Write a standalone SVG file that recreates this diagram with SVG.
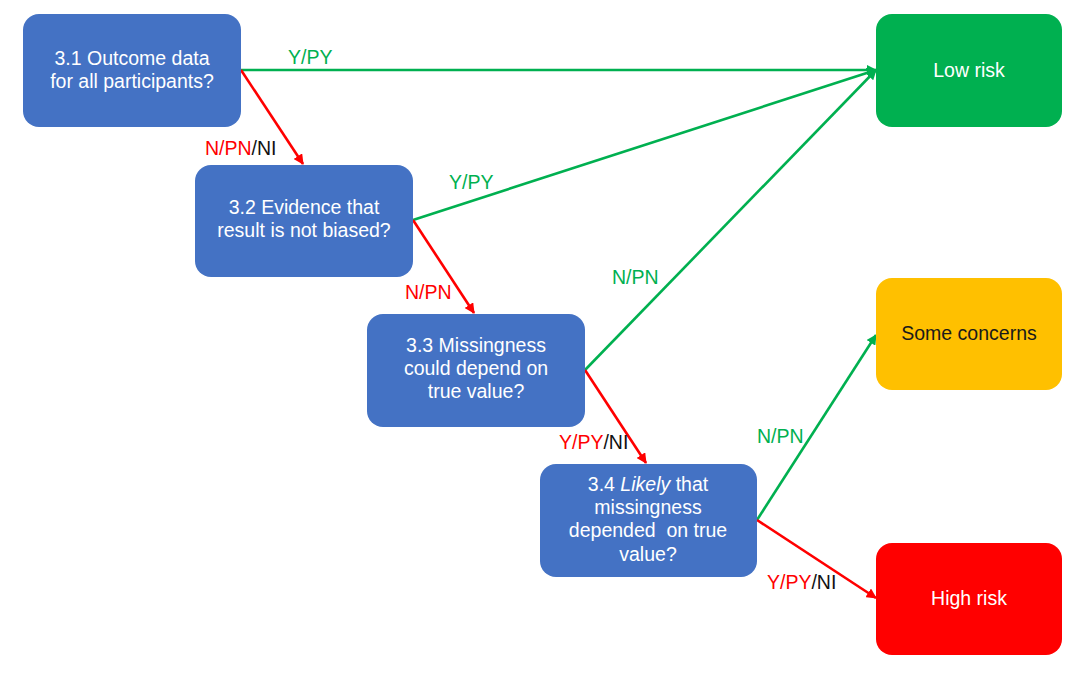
<svg xmlns="http://www.w3.org/2000/svg" width="1080" height="676" viewBox="0 0 1080 676">
<style>
.q{fill:#4472C4}
.t{font-family:"Liberation Sans",Arial,sans-serif;font-size:19.5px;text-anchor:middle;dominant-baseline:central}
.w{fill:#ffffff}
.g{stroke:#00B050;stroke-width:2.6;fill:none}
.r{stroke:#FF0000;stroke-width:2.6;fill:none}
.l{font-family:"Liberation Sans",Arial,sans-serif;font-size:19.5px;dominant-baseline:central}
.gt{fill:#00B050}
.rt{fill:#FF0000}
.kt{fill:#111111}
</style>
<defs>
<marker id="ag" viewBox="0 0 10 10" refX="9" refY="5" markerWidth="4" markerHeight="4" orient="auto" markerUnits="strokeWidth"><path d="M0,0 L10,5 L0,10 z" fill="#00B050"/></marker>
<marker id="ar" viewBox="0 0 10 10" refX="9" refY="5" markerWidth="4" markerHeight="4" orient="auto" markerUnits="strokeWidth"><path d="M0,0 L10,5 L0,10 z" fill="#FF0000"/></marker>
</defs>
<rect width="1080" height="676" fill="#ffffff"/>
<g id="connectors">
<line class="g" x1="241" y1="70" x2="876" y2="70" marker-end="url(#ag)"/>
<line class="r" x1="241" y1="70" x2="303" y2="164" marker-end="url(#ar)"/>
<line class="g" x1="413" y1="220" x2="876" y2="70" marker-end="url(#ag)"/>
<line class="r" x1="413" y1="220" x2="474" y2="313" marker-end="url(#ar)"/>
<line class="g" x1="585" y1="370" x2="876" y2="70" marker-end="url(#ag)"/>
<line class="r" x1="585" y1="370" x2="646" y2="463" marker-end="url(#ar)"/>
<line class="g" x1="757" y1="520" x2="876" y2="335" marker-end="url(#ag)"/>
<line class="r" x1="757" y1="520" x2="876" y2="598" marker-end="url(#ar)"/>
<text class="l gt" x="288" y="57">Y/PY</text>
<text class="l" x="205" y="148"><tspan class="rt">N/PN</tspan><tspan class="kt">/NI</tspan></text>
<text class="l gt" x="449" y="182">Y/PY</text>
<text class="l rt" x="405" y="292">N/PN</text>
<text class="l gt" x="612" y="277">N/PN</text>
<text class="l" x="559" y="442"><tspan class="rt">Y/PY</tspan><tspan class="kt">/NI</tspan></text>
<text class="l gt" x="757" y="436">N/PN</text>
<text class="l" x="767" y="582"><tspan class="rt">Y/PY</tspan><tspan class="kt">/NI</tspan></text>
</g>
<g id="q31">
<rect class="q" x="23" y="14" width="218" height="113" rx="16"/>
<text class="t w" x="132" y="58">3.1 Outcome data</text>
<text class="t w" x="132" y="81">for all participants?</text>
</g>
<g id="q32">
<rect class="q" x="195" y="165" width="218" height="112" rx="16"/>
<text class="t w" x="304" y="207">3.2 Evidence that</text>
<text class="t w" x="304" y="230">result is not biased?</text>
</g>
<g id="q33">
<rect class="q" x="367" y="314" width="218" height="113" rx="16"/>
<text class="t w" x="476" y="345">3.3 Missingness</text>
<text class="t w" x="476" y="368">could depend on</text>
<text class="t w" x="476" y="391">true value?</text>
</g>
<g id="q34">
<rect class="q" x="540" y="464" width="217" height="113" rx="16"/>
<text class="t w" x="648" y="484">3.4 <tspan font-style="italic">Likely</tspan> that</text>
<text class="t w" x="648" y="507">missingness</text>
<text class="t w" x="648" y="530" xml:space="preserve">depended  on true</text>
<text class="t w" x="648" y="554">value?</text>
</g>
<g id="low">
<rect x="876" y="14" width="186" height="113" rx="16" fill="#00B050"/>
<text class="t w" x="969" y="70">Low risk</text>
</g>
<g id="some">
<rect x="876" y="278" width="186" height="112" rx="16" fill="#FFC000"/>
<text class="t" x="969" y="333" fill="#1a1a1a">Some concerns</text>
</g>
<g id="high">
<rect x="876" y="543" width="186" height="112" rx="16" fill="#FF0000"/>
<text class="t w" x="969" y="598">High risk</text>
</g>
</svg>
